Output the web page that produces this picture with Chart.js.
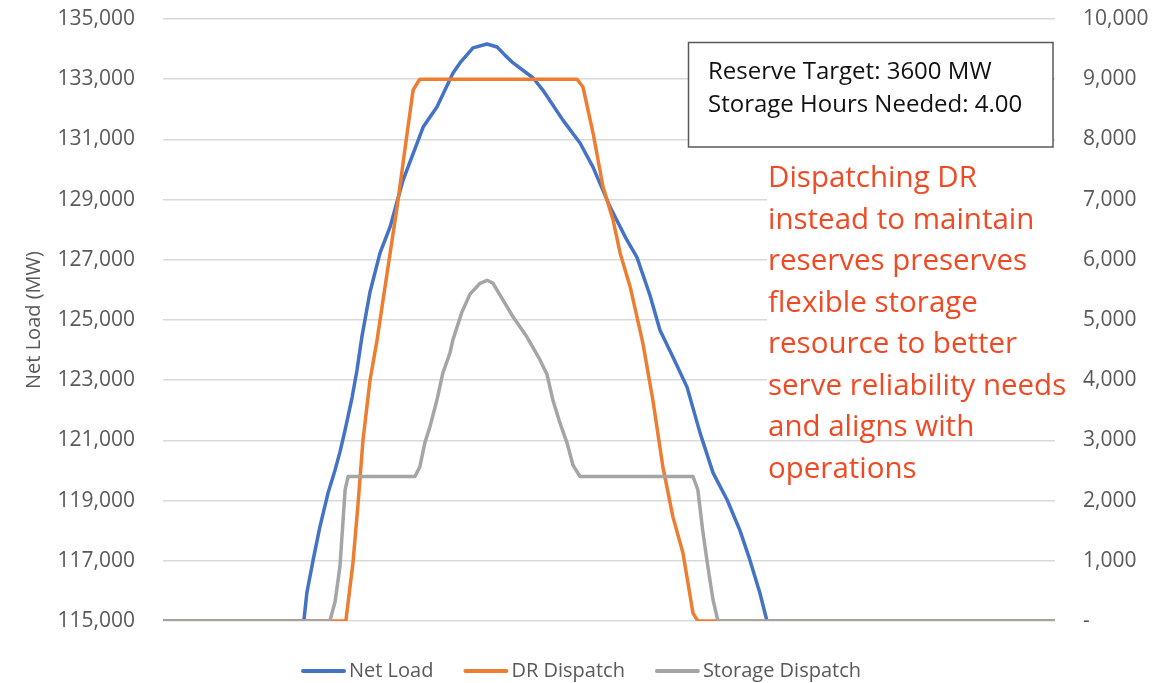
<!DOCTYPE html>
<html>
<head>
<meta charset="utf-8">
<script src="https://cdn.jsdelivr.net/npm/chart.js@4.4.1/dist/chart.umd.min.js"></script>
<style>
  html, body { margin: 0; padding: 0; background: #ffffff; }
  #wrap { width: 1173px; height: 683px; position: relative; }
</style>
</head>
<body>
<div id="wrap"><canvas id="c" width="1173" height="683"></canvas></div>
<script>
// ---- Data (time in hours, values in MW) ----
const seriesNames = ["Net Load", "DR Dispatch", "Storage Dispatch"];

const netLoadHours = [0, 3.79, 3.87, 4.04, 4.22, 4.44, 4.63, 4.76, 4.90, 5.09, 5.22, 5.35, 5.57, 5.84, 6.11, 6.46, 7.00, 7.37, 7.80, 7.99, 8.34, 8.72, 8.99, 9.20, 9.42, 9.96, 10.22, 10.76, 11.22, 11.57, 12.03, 12.48, 12.75, 13.10, 13.37, 13.72, 14.10, 14.45, 14.80, 15.18, 15.52, 15.79, 16.06, 16.25, 24];
const netLoad = [115000, 115000, 115930, 117030, 118120, 119250, 120020, 120610, 121350, 122440, 123340, 124430, 125930, 127230, 128090, 129650, 131410, 132080, 133200, 133540, 134040, 134170, 134070, 133800, 133540, 133040, 132640, 131640, 130880, 130080, 128750, 127660, 127090, 125830, 124670, 123770, 122770, 121250, 119920, 119020, 118020, 117030, 115930, 115000, 115000];

const drHours = [0, 4.92, 5.11, 5.25, 5.38, 5.57, 5.76, 6.03, 6.30, 6.57, 6.73, 6.91, 11.14, 11.30, 11.57, 11.84, 12.11, 12.30, 12.57, 12.91, 13.18, 13.45, 13.72, 13.99, 14.26, 14.39, 24];
const drDispatch = [0, 0, 960, 1960, 3000, 4000, 4670, 5780, 6880, 8110, 8820, 9000, 9000, 8870, 8110, 7210, 6660, 6110, 5550, 4620, 3670, 2560, 1730, 1130, 130, 0, 0];

const storageHours = [0, 4.49, 4.63, 4.76, 4.90, 4.98, 6.78, 6.91, 7.05, 7.18, 7.37, 7.53, 7.72, 7.80, 8.04, 8.26, 8.53, 8.72, 8.88, 9.15, 9.42, 9.79, 10.14, 10.33, 10.49, 10.68, 10.87, 11.03, 11.22, 14.26, 14.39, 14.53, 14.66, 14.80, 14.93, 24];
const storageDispatch = [0, 0, 320, 900, 2180, 2400, 2400, 2560, 2970, 3220, 3670, 4120, 4450, 4670, 5130, 5430, 5610, 5660, 5610, 5330, 5050, 4720, 4340, 4100, 3670, 3290, 2960, 2590, 2400, 2400, 2180, 1460, 900, 350, 0, 0];

const leftAxis = { min: 115000, max: 135000, step: 2000, title: "Net Load (MW)" };
const rightAxis = { min: 0, max: 10000, step: 1000 };

const boxLines = ["Reserve Target: 3600 MW", "Storage Hours Needed: 4.00"];
const noteLines = ["Dispatching DR", "instead to maintain", "reserves preserves", "flexible storage", "resource to better", "serve reliability needs", "and aligns with", "operations"];

// ---- Styling ----
const FONT = "'Open Sans', sans-serif";
const GREY_TEXT = "#595959";
const COLORS = ["#4472C4", "#ED7D31", "#A5A5A5"];

function pts(xs, ys) { return xs.map((x, i) => ({ x: x, y: ys[i] })); }

const annotations = {
  id: "annotations",
  beforeDatasetsDraw(chart) {
    const ctx = chart.ctx;
    ctx.save();
    ctx.fillStyle = "#ffffff";
    ctx.fillRect(767, 158, 296, 274);
    ctx.fillStyle = "#ffffff";
    ctx.fillRect(688, 42, 365, 105);
    ctx.strokeStyle = GREY_TEXT;
    ctx.lineWidth = 1.5;
    ctx.strokeRect(688.5, 42.5, 364.5, 104.5);
    ctx.restore();
  },
  afterDraw(chart) {
    const ctx = chart.ctx;
    ctx.save();
    ctx.textBaseline = "alphabetic";
    ctx.textAlign = "left";
    ctx.fillStyle = "#111111";
    ctx.font = "24px " + FONT;
    boxLines.forEach((t, i) => ctx.fillText(t, 708, 79 + i * 33));
    ctx.fillStyle = "#F04A25";
    ctx.font = "29.5px " + FONT;
    noteLines.forEach((t, i) => ctx.fillText(t, 768, 187 + i * 41.5));

    ctx.font = "20px " + FONT;
    ctx.textBaseline = "middle";
    const lineLen = 45, gap = 3, spacing = 30;
    const items = chart.data.datasets.map(d => ({ label: d.label, color: d.borderColor, w: ctx.measureText(d.label).width }));
    const total = items.reduce((s, it) => s + lineLen + gap + it.w, 0) + spacing * (items.length - 1);
    let x = 581 - total / 2;
    const y = 671;
    items.forEach(it => {
      ctx.strokeStyle = it.color;
      ctx.lineWidth = 4;
      ctx.lineCap = "round";
      ctx.beginPath();
      ctx.moveTo(x + 2, y);
      ctx.lineTo(x + lineLen - 2, y);
      ctx.stroke();
      ctx.fillStyle = GREY_TEXT;
      ctx.fillText(it.label, x + lineLen + gap, y);
      x += lineLen + gap + it.w + spacing;
    });
    ctx.restore();
  }
};

const fmt = v => Number(v).toLocaleString("en-US");

new Chart(document.getElementById("c"), {
  type: "line",
  data: {
    datasets: [
      { label: seriesNames[0], data: pts(netLoadHours, netLoad), yAxisID: "y", borderColor: COLORS[0], backgroundColor: COLORS[0], order: 3 },
      { label: seriesNames[1], data: pts(drHours, drDispatch), yAxisID: "y1", borderColor: COLORS[1], backgroundColor: COLORS[1], order: 2 },
      { label: seriesNames[2], data: pts(storageHours, storageDispatch), yAxisID: "y1", borderColor: COLORS[2], backgroundColor: COLORS[2], order: 1 }
    ]
  },
  options: {
    responsive: false,
    animation: false,
    layout: { padding: { left: 0, right: 0, top: 19, bottom: 62 } },
    elements: {
      point: { radius: 0, hoverRadius: 0 },
      line: { borderWidth: 3.5, tension: 0, borderJoinStyle: "round", borderCapStyle: "round", fill: false }
    },
    plugins: { legend: { display: false }, tooltip: { enabled: false } },
    scales: {
      x: { type: "linear", min: 0, max: 24, display: false },
      y: {
        position: "left",
        min: leftAxis.min, max: leftAxis.max,
        afterFit(s) { s.width = 163; s.paddingTop = 0; s.paddingBottom = 0; },
        border: { display: false },
        grid: { color: "#d9d9d9", lineWidth: 1.5, drawTicks: false },
        ticks: { stepSize: leftAxis.step, padding: 28, color: GREY_TEXT, font: { family: FONT, size: 21 }, callback: v => fmt(v) },
        title: { display: true, text: leftAxis.title, color: GREY_TEXT, font: { family: FONT, size: 20 }, padding: { top: 22, bottom: 0 } }
      },
      y1: {
        position: "right",
        min: rightAxis.min, max: rightAxis.max,
        afterFit(s) { s.width = 118; s.paddingTop = 0; s.paddingBottom = 0; },
        border: { display: false },
        grid: { display: false, drawTicks: false },
        ticks: { stepSize: rightAxis.step, padding: 28, color: GREY_TEXT, font: { family: FONT, size: 21 }, callback: v => (v === 0 ? "-" : fmt(v)) }
      }
    }
  },
  plugins: [annotations]
});
</script>
</body>
</html>
